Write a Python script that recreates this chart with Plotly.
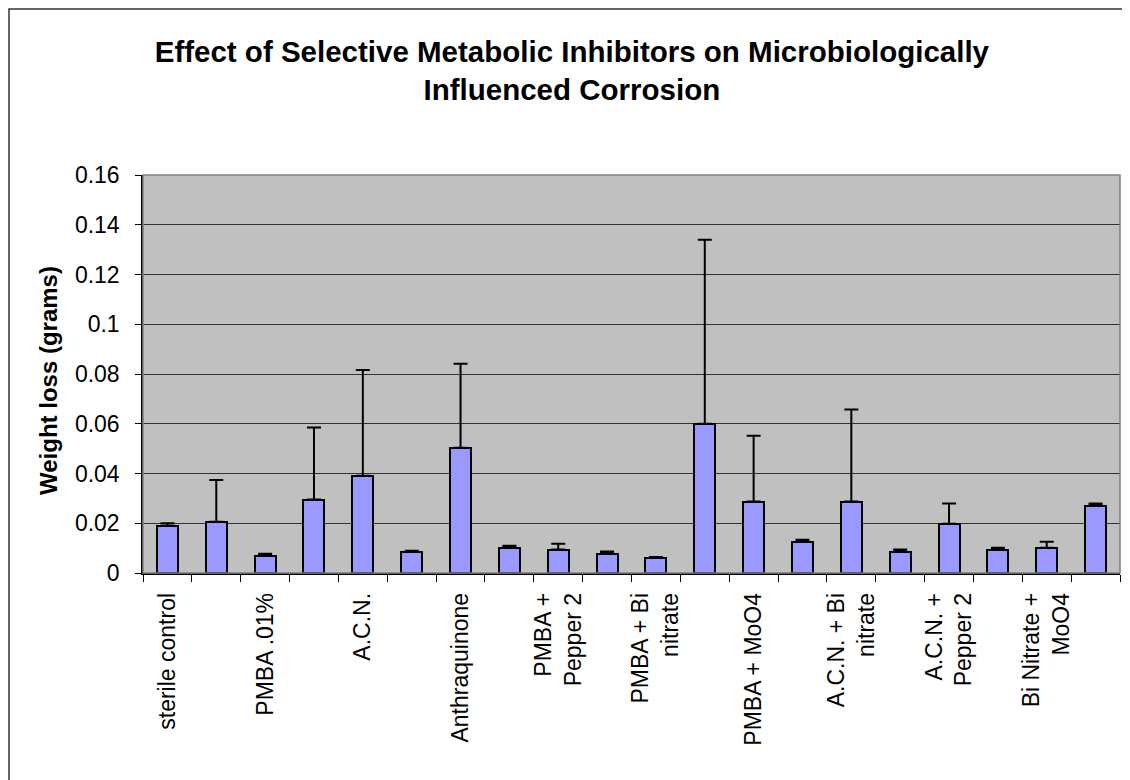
import plotly.graph_objects as go

labels = ["sterile control", "", "PMBA .01%", "", "A.C.N.", "", "Anthraquinone", "",
          "PMBA +<br>Pepper 2", "", "PMBA + Bi<br>nitrate", "", "PMBA + MoO4", "",
          "A.C.N. + Bi<br>nitrate", "", "A.C.N. +<br>Pepper 2", "", "Bi Nitrate +<br>MoO4", ""]
values = [0.0190, 0.0206, 0.0070, 0.0295, 0.0391, 0.0086, 0.0504, 0.0102, 0.0094, 0.0078,
          0.0062, 0.0600, 0.0287, 0.0126, 0.0287, 0.0086, 0.0198, 0.0094, 0.0102, 0.0271]
errors = [0.0010, 0.0168, 0.0007, 0.0290, 0.0425, 0.0003, 0.0337, 0.0008, 0.0024, 0.0008,
          0.0002, 0.0740, 0.0265, 0.0008, 0.0370, 0.0008, 0.0081, 0.0008, 0.0024, 0.0008]

idx = list(range(len(values)))
tick_idx = [i for i, l in enumerate(labels) if l]
tick_txt = [labels[i] for i in tick_idx]

FONT = "Liberation Sans, Arial, sans-serif"

fig = go.Figure(go.Bar(
    x=idx, y=values, width=0.43,
    marker=dict(color="#9999FF", line=dict(color="black", width=2)),
    error_y=dict(type="data", array=errors, symmetric=False, arrayminus=[0]*len(errors),
                 color="black", thickness=2, width=7),
    showlegend=False,
))

W, H = 1130, 780
L, R, T, B = 135, 18, 167, 215
pw, ph = W - L - R, H - T - B

fig.update_layout(
    width=W, height=H,
    margin=dict(l=L, r=R, t=T, b=B, autoexpand=False),
    paper_bgcolor="white", plot_bgcolor="#C0C0C0",
    font=dict(family=FONT, size=23, color="black"),
    title=dict(text="<b>Effect of Selective Metabolic Inhibitors on Microbiologically<br>Influenced Corrosion</b>",
               x=0.499, xref="container", xanchor="center",
               y=(H - 54) / H, yref="container", yanchor="middle",
               font=dict(family=FONT, size=29.5, color="black")),
    bargap=0,
    xaxis=dict(range=[-0.5, len(values) - 0.5], tickmode="array", tickvals=tick_idx, ticktext=tick_txt,
               tickangle=-90, ticks="", showgrid=False, zeroline=False,
               showline=True, linecolor="black", linewidth=1.5,
               ticklabelstandoff=9, tickfont=dict(size=23),
               minor=dict(ticks="outside", tickmode="linear", tick0=-0.5, dtick=1,
                          ticklen=7, tickcolor="black", tickwidth=1, showgrid=False),
               automargin=False),
    yaxis=dict(range=[0, 0.16], dtick=0.02, ticks="outside", ticklen=6,
               tickcolor="black", showgrid=True, gridcolor="#333333", gridwidth=1,
               zeroline=False, showline=True, linecolor="black", linewidth=1.5,
               ticklabelstandoff=11, tickfont=dict(size=23), automargin=False),
    annotations=[dict(text="<b>Weight loss (grams)</b>", textangle=-90,
                      xref="paper", yref="paper", x=(40 - L) / pw, y=(H - B - 373) / ph,
                      xanchor="center", yanchor="middle", showarrow=False,
                      font=dict(family=FONT, size=24, color="black"))],
    shapes=[
        dict(type="rect", xref="paper", yref="paper", x0=0, x1=1, y0=0, y1=1,
             line=dict(color="#808080", width=1.5), layer="above"),
        dict(type="rect", xref="paper", yref="paper",
             x0=(1 - L) / pw, x1=(W + 50 - L) / pw,
             y0=-(B + 50) / ph, y1=1 + (T - 1) / ph,
             line=dict(color="#333333", width=1.5)),
    ],
)

fig.write_html("out.html")
